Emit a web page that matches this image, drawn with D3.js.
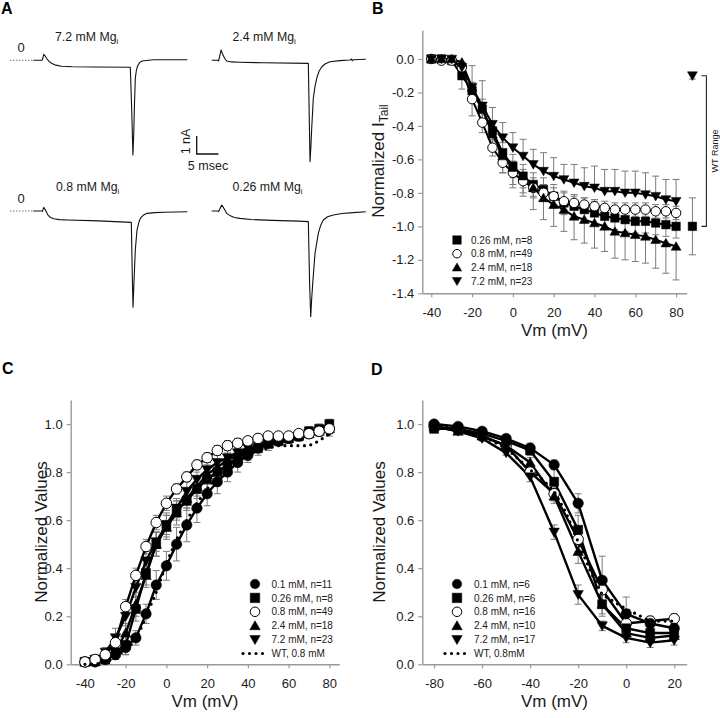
<!DOCTYPE html>
<html><head><meta charset="utf-8">
<script src="https://cdn.jsdelivr.net/npm/d3@7"></script>
<style>
body{margin:0;background:#fff}
text{font-family:'Liberation Sans',Arial,Helvetica,sans-serif}
</style></head>
<body><svg id="c" width="720" height="718"></svg>
<script>
// ---------- Panel A: current traces (time ms, current nA) ----------
const traceLabels = ["7.2 mM Mg", "2.4 mM Mg", "0.8 mM Mg", "0.26 mM Mg"];
const trace72T = [0,1.9,2.1,2.4,2.7,3.1,3.6,4.3,5.2,6.5,9,14,22.35,22.7,22.95,23.15,23.3,23.5,23.75,24.05,24.5,25.05,27.7,35.5];
const trace72I = [0,0,0.02,0.33,0.25,0.1,-0.06,-0.18,-0.27,-0.33,-0.36,-0.37,-0.39,-3.0,-5.26,-4.0,-2.5,-1.0,-0.55,-0.3,-0.13,-0.04,0.03,0.03];
const trace24T = [0,1.4,1.6,2.15,2.5,3.0,3.45,4.5,6.5,12,22.26,22.5,22.65,22.85,23.04,23.41,23.8,24.19,24.7,25.35,26.2,27.26,29.5,31.87,32.2,32.4,32.6,35.5];
const trace24I = [0,0,-0.03,0.57,0.35,0.1,-0.04,-0.09,-0.11,-0.14,-0.17,-3.5,-5.63,-4.8,-3.78,-2.11,-1.45,-1.0,-0.62,-0.36,-0.19,-0.08,-0.02,0.02,0.07,-0.02,0.03,0.06];
const trace08T = [0,1.9,2.1,2.4,2.8,3.3,3.9,4.7,6,8,15,22.58,22.8,22.97,23.15,23.5,23.89,24.3,24.65,25.3,26.2,28,30,35.5];
const trace08I = [0,0,-0.02,0.2,0.05,-0.2,-0.35,-0.43,-0.48,-0.5,-0.55,-0.63,-3.5,-5.35,-4.2,-2.17,-1.06,-0.65,-0.41,-0.24,-0.13,-0.09,-0.07,-0.04];
const trace026T = [0,1.4,1.6,2.3,2.7,3.45,4.3,5.2,6.5,9,14,20,22.26,22.55,22.81,23.0,23.27,23.8,24.56,25.1,25.71,26.7,28.02,30,32.6,35.5];
const trace026I = [0,0,-0.03,0.33,0.2,-0.13,-0.27,-0.36,-0.41,-0.47,-0.52,-0.56,-0.59,-4.0,-5.87,-5.0,-4.02,-2.35,-1.24,-0.8,-0.5,-0.32,-0.22,-0.14,-0.09,-0.04];
const scaleBarMs = 5, scaleBarNA = 1;

// ---------- Panel B: normalized tail current ----------
const vmB = [-40,-35,-30,-25,-20,-15,-10,-5,0,5,10,15,20,25,30,35,40,45,50,55,60,65,70,75,80];
const b026 = [0,0,-0.01,-0.1,-0.19,-0.3,-0.43,-0.56,-0.64,-0.7,-0.75,-0.78,-0.82,-0.86,-0.88,-0.9,-0.92,-0.94,-0.95,-0.96,-0.97,-0.97,-0.98,-0.99,-1.0];
const b08  = [0,-0.01,-0.01,-0.05,-0.24,-0.38,-0.53,-0.62,-0.68,-0.73,-0.77,-0.8,-0.82,-0.85,-0.86,-0.87,-0.88,-0.89,-0.9,-0.9,-0.9,-0.9,-0.91,-0.91,-0.92];
const b24  = [0,0,0,-0.02,-0.17,-0.3,-0.45,-0.58,-0.65,-0.7,-0.77,-0.83,-0.87,-0.9,-0.94,-0.96,-0.98,-1.0,-1.03,-1.04,-1.05,-1.06,-1.08,-1.1,-1.12];
const b72  = [0,0,0,-0.05,-0.17,-0.28,-0.39,-0.47,-0.53,-0.58,-0.63,-0.67,-0.7,-0.72,-0.74,-0.76,-0.77,-0.79,-0.79,-0.8,-0.8,-0.81,-0.82,-0.84,-0.85];
const b026E = [0.01,0.01,0.01,0.08,0.05,0.06,0.06,0.06,0.07,0.07,0.07,0.07,0.07,0.07,0.07,0.07,0.07,0.07,0.07,0.07,0.07,0.07,0.07,0.07,0.07];
const b08E  = [0.01,0.01,0.01,0.02,0.1,0.06,0.05,0.06,0.07,0.07,0.06,0.05,0.05,0.05,0.04,0.04,0.04,0.04,0.04,0.04,0.04,0.04,0.04,0.04,0.04];
const b24E  = [0.01,0.01,0.01,0.02,0.05,0.06,0.08,0.1,0.12,0.12,0.13,0.13,0.13,0.13,0.14,0.14,0.15,0.15,0.16,0.16,0.16,0.16,0.17,0.18,0.2];
const b72E  = [0.01,0.01,0.01,0.03,0.13,0.15,0.1,0.09,0.09,0.1,0.09,0.11,0.11,0.09,0.11,0.11,0.13,0.13,0.13,0.13,0.13,0.13,0.12,0.12,0.13];
const legendB = ["0.26 mM, n=8", "0.8 mM, n=49", "2.4 mM, n=18", "7.2 mM, n=23"];
const wtVm = 88;
const wtValues = [-0.1, -1.0];   // 7.2 mM (top), 0.26 mM (bottom)
const wtErrors = [0.02, 0.17];
const ticksBx = [-40,-20,0,20,40,60,80];
const ticksBy = [0,-0.2,-0.4,-0.6,-0.8,-1.0,-1.2,-1.4];

// ---------- Panel C: activation ----------
const vmC = [-40,-35,-30,-25,-20,-15,-10,-5,0,5,10,15,20,25,30,35,40,45,50,55,60,65,70,75,80];
const c01  = [0.01,0.01,0.02,0.04,0.07,0.11,0.21,0.33,0.41,0.5,0.58,0.65,0.71,0.76,0.8,0.84,0.87,0.9,0.92,0.93,0.94,0.95,0.96,0.97,0.98];
const c026 = [0.01,0.02,0.02,0.05,0.08,0.23,0.38,0.5,0.58,0.64,0.68,0.73,0.77,0.8,0.83,0.86,0.88,0.9,0.92,0.93,0.94,0.95,0.97,0.98,1.0];
const c08  = [0.01,0.02,0.04,0.09,0.24,0.37,0.49,0.59,0.67,0.73,0.78,0.83,0.86,0.89,0.91,0.92,0.93,0.94,0.95,0.95,0.95,0.96,0.96,0.97,0.98];
const c24  = [0.01,0.01,0.03,0.06,0.13,0.25,0.37,0.5,0.57,0.63,0.69,0.74,0.79,0.82,0.85,0.87,0.89,0.91,0.92,0.93,0.94,0.95,0.96,0.97,0.98];
const c72  = [0.01,0.02,0.05,0.11,0.2,0.32,0.43,0.51,0.58,0.65,0.72,0.77,0.81,0.84,0.86,0.88,0.9,0.91,0.92,0.93,0.94,0.95,0.96,0.97,0.97];
const cWT  = [0,0,0.01,0.03,0.06,0.1,0.2,0.3,0.42,0.52,0.6,0.67,0.73,0.78,0.82,0.85,0.87,0.89,0.9,0.91,0.91,0.91,0.91,0.93,0.96];
const c01E  = [0.005,0.005,0.01,0.02,0.03,0.03,0.04,0.06,0.06,0.07,0.07,0.06,0.05,0.05,0.04,0.04,0.03,0.03,0.03,0.02,0.02,0.02,0.02,0.02,0.02];
const c026E = [0.005,0.01,0.01,0.03,0.04,0.05,0.05,0.05,0.05,0.04,0.04,0.04,0.04,0.03,0.03,0.03,0.03,0.02,0.02,0.02,0.02,0.02,0.02,0.02,0.02];
const c08E  = [0.005,0.005,0.01,0.02,0.03,0.03,0.03,0.03,0.03,0.02,0.02,0.02,0.02,0.02,0.02,0.02,0.01,0.01,0.01,0.01,0.01,0.01,0.01,0.01,0.01];
const c24E  = [0.005,0.01,0.01,0.02,0.04,0.05,0.05,0.05,0.05,0.05,0.04,0.04,0.04,0.03,0.03,0.03,0.03,0.02,0.02,0.02,0.02,0.02,0.02,0.02,0.02];
const c72E  = [0.005,0.01,0.02,0.04,0.04,0.04,0.04,0.04,0.04,0.04,0.04,0.03,0.03,0.03,0.03,0.03,0.03,0.02,0.02,0.02,0.02,0.02,0.02,0.02,0.02];
const legendC = ["0.1 mM, n=11", "0.26 mM, n=8", "0.8 mM, n=49", "2.4 mM, n=18", "7.2 mM, n=23", "WT, 0.8 mM"];
const ticksCx = [-40,-20,0,20,40,60,80];
const ticksCy = [0,0.2,0.4,0.6,0.8,1.0];

// ---------- Panel D: inactivation ----------
const vmD = [-80,-70,-60,-50,-40,-30,-20,-10,0,10,20];
const d01  = [1.0,0.99,0.97,0.94,0.9,0.83,0.67,0.35,0.21,0.17,0.15];
const d026 = [0.98,0.98,0.96,0.93,0.89,0.76,0.56,0.25,0.15,0.13,0.13];
const d08  = [0.99,0.98,0.95,0.91,0.8,0.71,0.52,0.31,0.17,0.18,0.19];
const d24  = [0.99,0.97,0.95,0.91,0.84,0.7,0.47,0.25,0.13,0.11,0.12];
const d72  = [0.99,0.97,0.94,0.88,0.78,0.55,0.29,0.16,0.11,0.09,0.1];
const d01E  = [0.01,0.01,0.01,0.01,0.02,0.02,0.04,0.1,0.07,0.02,0.02];
const d026E = [0.01,0.01,0.01,0.01,0.02,0.06,0.06,0.05,0.03,0.02,0.02];
const d08E  = [0.01,0.01,0.01,0.02,0.02,0.03,0.05,0.05,0.03,0.02,0.02];
const d24E  = [0.01,0.01,0.01,0.01,0.02,0.03,0.05,0.04,0.02,0.02,0.02];
const d72E  = [0.01,0.01,0.01,0.01,0.02,0.03,0.04,0.02,0.02,0.02,0.02];
const vmDwt = [-80,-70,-60,-50,-40,-35,-30,-25,-20,-15,-10,-5,0,10,20];
const dWT   = [1.0,0.98,0.95,0.9,0.81,0.77,0.72,0.63,0.51,0.39,0.29,0.26,0.23,0.18,0.18];
const legendD = ["0.1 mM, n=6", "0.26 mM, n=6", "0.8 mM, n=16", "2.4 mM, n=10", "7.2 mM, n=17", "WT, 0.8mM"];
const ticksDx = [-80,-60,-40,-20,0,20];
const ticksDy = [0,0.2,0.4,0.6,0.8,1.0];

// =====================================================================
const svg = d3.select("#c");
const AXC = "#999", TXT = "#1a1a1a", ERRC = "#7a7a7a";

function symPath(type, s) {
  const h = s / 2;
  if (type === "square") return `M${-h},${-h}H${h}V${h}H${-h}Z`;
  if (type === "up") return `M0,${-h * 1.05}L${h * 1.1},${h * 0.85}L${-h * 1.1},${h * 0.85}Z`;
  if (type === "down") return `M0,${h * 1.05}L${h * 1.1},${-h * 0.85}L${-h * 1.1},${-h * 0.85}Z`;
  return `M${h},0A${h},${h} 0 1,1 ${-h},0A${h},${h} 0 1,1 ${h},0Z`;
}

function panelLetter(t, x, y) {
  svg.append("text").attr("x", x).attr("y", y).attr("font-size", 16).attr("font-weight", "bold")
    .attr("fill", "#000").text(t);
}

function axes(g, x, y, xt, yt, w, h) {
  const ax = g.append("g").attr("transform", `translate(0,${h})`)
    .call(d3.axisBottom(x).tickValues(xt).tickSize(4).tickSizeOuter(0).tickPadding(10).tickFormat(d => String(d)));
  const ay = g.append("g")
    .call(d3.axisLeft(y).tickValues(yt).tickSize(4).tickSizeOuter(0).tickPadding(4).tickFormat(d => d.toFixed(1)));
  [ax, ay].forEach(a => {
    a.select(".domain").attr("stroke", AXC).attr("stroke-width", 1.4);
    a.selectAll(".tick line").attr("stroke", AXC).attr("stroke-width", 1.2);
    a.selectAll(".tick text").attr("fill", TXT).attr("font-size", 13)
      .attr("font-family", "'Liberation Sans',Arial,sans-serif");
  });
}

function series(g, x, y, xs, ys, es, type, open, size, lw, dir, layer) {
  const pts = xs.map((v, i) => ({ x: v, y: ys[i], e: es ? es[i] : 0 }));
  if (es) {
    const eg = layer.err;
    pts.forEach(p => {
      const up = (dir === "both" || dir === "up");
      const dn = (dir === "both" || dir === "down");
      const yv = y(p.y);
      const yT = y(p.y + (y.domain()[0] > y.domain()[1] ? p.e : -p.e)); // visual up
      const yB = y(p.y + (y.domain()[0] > y.domain()[1] ? -p.e : p.e));
      const x0 = x(p.x);
      const yHi = Math.min(yT, yB), yLo = Math.max(yT, yB);
      if (up) {
        eg.append("line").attr("x1", x0).attr("x2", x0).attr("y1", yv).attr("y2", yHi);
        eg.append("line").attr("x1", x0 - 3.5).attr("x2", x0 + 3.5).attr("y1", yHi).attr("y2", yHi);
      }
      if (dn) {
        eg.append("line").attr("x1", x0).attr("x2", x0).attr("y1", yv).attr("y2", yLo);
        eg.append("line").attr("x1", x0 - 3.5).attr("x2", x0 + 3.5).attr("y1", yLo).attr("y2", yLo);
      }
    });
  }
  layer.line.append("path").datum(pts)
    .attr("d", d3.line().x(d => x(d.x)).y(d => y(d.y)))
    .attr("fill", "none").attr("stroke", "#000").attr("stroke-width", lw).attr("stroke-linejoin", "round");
  if (type) {
    layer.sym.selectAll(null).data(pts).enter().append("path")
      .attr("transform", d => `translate(${x(d.x)},${y(d.y)})`)
      .attr("d", symPath(type, size))
      .attr("fill", open ? "#fff" : "#000").attr("stroke", "#000").attr("stroke-width", open ? 1 : 0.5);
  }
}

function dotted(g, x, y, xs, ys) {
  g.append("path").datum(xs.map((v, i) => [v, ys[i]]))
    .attr("d", d3.line().x(d => x(d[0])).y(d => y(d[1])))
    .attr("fill", "none").attr("stroke", "#000").attr("stroke-width", 3.2)
    .attr("stroke-linecap", "round").attr("stroke-dasharray", "0,6.5");
}

function layers(g) {
  const err = g.append("g").attr("stroke", ERRC).attr("stroke-width", 1);
  const line = g.append("g");
  const sym = g.append("g");
  return { err, line, sym };
}

function legend(g, x0, y0, dy, labels, types, opens, size, withWT, txtX) {
  labels.forEach((lab, i) => {
    const yy = y0 + i * dy;
    if (withWT && i === labels.length - 1) {
      g.append("line").attr("x1", x0 - 12).attr("x2", x0 + 9).attr("y1", yy).attr("y2", yy)
        .attr("stroke", "#000").attr("stroke-width", 3.2).attr("stroke-linecap", "round").attr("stroke-dasharray", "0,6.5");
    } else {
      g.append("path").attr("transform", `translate(${x0},${yy})`).attr("d", symPath(types[i], size))
        .attr("fill", opens[i] ? "#fff" : "#000").attr("stroke", "#000").attr("stroke-width", opens[i] ? 1 : 0.5);
    }
    g.append("text").attr("x", txtX).attr("y", yy + 3.6).attr("font-size", 10).attr("fill", TXT).text(lab);
  });
}

function yTitle(x, yc, main, sub) {
  const t = svg.append("text").attr("transform", `translate(${x},${yc}) rotate(-90)`)
    .attr("text-anchor", "middle").attr("font-size", 17).attr("fill", TXT).text(main);
  if (sub) t.append("tspan").attr("font-size", 12).attr("dy", 4).text(sub);
}
function xTitle(xc, y) {
  svg.append("text").attr("x", xc).attr("y", y).attr("text-anchor", "middle")
    .attr("font-size", 17).attr("fill", TXT).text("Vm (mV)");
}

// ---------------- Panel A ----------------
panelLetter("A", 1, 14);
panelLetter("B", 372, 14);
panelLetter("C", 2, 374);
panelLetter("D", 371, 375);
{
  const tA = d3.scaleLinear().domain([0, 35.5]).range([0, 154.1]);
  const iA = d3.scaleLinear().domain([0, -1]).range([0, 18]);
  const traces = [
    { t: trace72T, i: trace72I, ox: 33.3, oy: 60.3, lab: traceLabels[0], lx: 55, ly: 41 },
    { t: trace24T, i: trace24I, ox: 211.7, oy: 60.3, lab: traceLabels[1], lx: 232.5, ly: 41 },
    { t: trace08T, i: trace08I, ox: 33.3, oy: 211, lab: traceLabels[2], lx: 56, ly: 191 },
    { t: trace026T, i: trace026I, ox: 211.7, oy: 211, lab: traceLabels[3], lx: 232.5, ly: 191 }
  ];
  traces.forEach((tr, k) => {
    const g = svg.append("g").attr("transform", `translate(${tr.ox},${tr.oy})`);
    g.append("path").datum(tr.t.map((v, j) => [v, tr.i[j]]))
      .attr("d", d3.line().x(d => tA(d[0])).y(d => iA(d[1])))
      .attr("fill", "none").attr("stroke", "#111").attr("stroke-width", 1.1).attr("stroke-linejoin", "round");
    const lt = svg.append("text").attr("x", tr.lx).attr("y", tr.ly).attr("font-size", 12.3).attr("fill", TXT).text(tr.lab);
    lt.append("tspan").attr("font-size", 8).attr("dy", 3).text("i");
    if (k % 2 === 0) {
      g.append("line").attr("x1", -23).attr("x2", 0).attr("y1", iA(0)).attr("y2", iA(0))
        .attr("stroke", "#333").attr("stroke-width", 1).attr("stroke-dasharray", "1,2");
      svg.append("text").attr("x", 17.5).attr("y", tr.oy - 8).attr("font-size", 13).attr("fill", TXT).text("0");
    }
  });
  // scale bar
  const sbx = 196.7, sby = 154;
  const sb = svg.append("g").attr("stroke", "#111").attr("stroke-width", 1.3).attr("fill", "none");
  sb.append("path").attr("d", `M${sbx},${sby - iA(-scaleBarNA)}V${sby}H${sbx + tA(scaleBarMs)}`);
  svg.append("text").attr("transform", `translate(190,141.5) rotate(-90)`).attr("text-anchor", "middle")
    .attr("font-size", 12.5).attr("fill", TXT).text(scaleBarNA + " nA");
  svg.append("text").attr("x", 208).attr("y", 170).attr("text-anchor", "middle")
    .attr("font-size", 12.5).attr("fill", TXT).text(scaleBarMs + " msec");
}

// ---------------- Panel B ----------------
{
  const L = 422.3, T = 30, W = 264.4, H = 263.3;
  const x = d3.scaleLinear().domain([-44.4, 85.2]).range([0, W]);
  const y = d3.scaleLinear().domain([0.173, -1.4]).range([0, H]);
  const g = svg.append("g").attr("transform", `translate(${L},${T})`);
  axes(g, x, y, ticksBx, ticksBy, W, H);
  const ly = layers(g);
  series(g, x, y, vmB, b026, b026E, "square", false, 8.5, 2, "both", ly);
  series(g, x, y, vmB, b08, b08E, "circle", true, 9.5, 2, "both", ly);
  series(g, x, y, vmB, b24, b24E, "up", false, 9, 2, "down", ly);
  series(g, x, y, vmB, b72, b72E, "down", false, 9, 2, "up", ly);
  // WT range markers
  series(g, x, y, [wtVm], [wtValues[0]], [wtErrors[0]], "down", false, 9, 0, "both", ly);
  series(g, x, y, [wtVm], [wtValues[1]], [wtErrors[1]], "square", false, 8.5, 0, "both", ly);
  const bx = x(wtVm) + 14;
  g.append("path").attr("d", `M${bx - 5},${y(wtValues[0])}H${bx}V${y(wtValues[1])}H${bx - 5}`)
    .attr("fill", "none").attr("stroke", "#222").attr("stroke-width", 1.1);
  g.append("text").attr("transform", `translate(${bx + 12},${y((wtValues[0] + wtValues[1]) / 2)}) rotate(-90)`)
    .attr("text-anchor", "middle").attr("font-size", 9).attr("fill", TXT).text("WT Range");
  legend(svg, 457, 240, 13.7, legendB, ["square", "circle", "up", "down"], [false, true, false, false], 8.5, false, 471);
  yTitle(384, 161, "Normalized I", "Tail");
  xTitle(554.5, 336);
}

// ---------------- Panel C ----------------
{
  const L = 70.7, T = 400, W = 268.6, H = 264.3;
  const x = d3.scaleLinear().domain([-47, 84.9]).range([0, W]);
  const y = d3.scaleLinear().domain([1.1, 0]).range([0, H]);
  const g = svg.append("g").attr("transform", `translate(${L},${T})`);
  axes(g, x, y, ticksCx, ticksCy, W, H);
  const ly = layers(g);
  series(g, x, y, vmC, c01, c01E, "circle", false, 10.5, 2.4, "both", ly);
  series(g, x, y, vmC, c026, c026E, "square", false, 9, 2.4, "both", ly);
  series(g, x, y, vmC, c24, c24E, "up", false, 9.5, 2.4, "both", ly);
  series(g, x, y, vmC, c72, c72E, "down", false, 9.5, 2.4, "both", ly);
  series(g, x, y, vmC, c08, c08E, "circle", true, 10.5, 2.4, "both", ly);
  dotted(ly.sym, x, y, vmC, cWT);
  legend(svg, 255, 584, 13.9, legendC, ["circle", "square", "circle", "up", "down"], [false, false, true, false, false], 9.5, true, 271.5);
  yTitle(47, 532, "Normalized Values");
  xTitle(205, 706.5);
}

// ---------------- Panel D ----------------
{
  const L = 422.3, T = 400, W = 264.4, H = 264.3;
  const x = d3.scaleLinear().domain([-84.9, 25.2]).range([0, W]);
  const y = d3.scaleLinear().domain([1.1, 0]).range([0, H]);
  const g = svg.append("g").attr("transform", `translate(${L},${T})`);
  axes(g, x, y, ticksDx, ticksDy, W, H);
  const ly = layers(g);
  series(g, x, y, vmD, d08, d08E, "circle", true, 10.5, 2.4, "both", ly);
  series(g, x, y, vmD, d01, d01E, "circle", false, 10.5, 2.4, "both", ly);
  series(g, x, y, vmD, d026, d026E, "square", false, 9, 2.4, "both", ly);
  series(g, x, y, vmD, d24, d24E, "up", false, 9.5, 2.4, "both", ly);
  series(g, x, y, vmD, d72, d72E, "down", false, 9.5, 2.4, "both", ly);
  dotted(ly.sym, x, y, vmDwt, dWT);
  legend(svg, 457, 584, 13.9, legendD, ["circle", "square", "circle", "up", "down"], [false, false, true, false, false], 9.5, true, 474);
  yTitle(384.5, 532, "Normalized Values");
  xTitle(554.5, 706.5);
}
</script>
</body></html>
